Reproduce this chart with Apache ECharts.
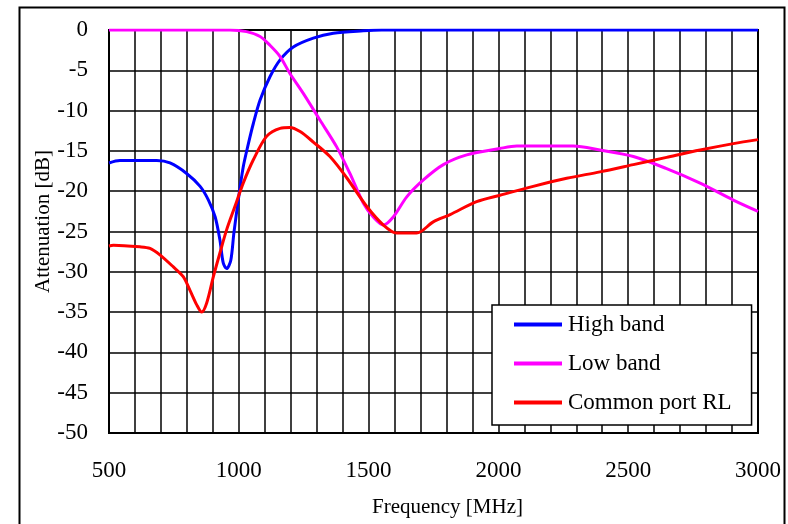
<!DOCTYPE html>
<html>
<head>
<meta charset="utf-8">
<script src="https://cdn.jsdelivr.net/npm/echarts@6/dist/echarts.min.js"></script>
<style>html,body{margin:0;padding:0;background:#fff}#c{width:788px;height:524px}</style>
</head>
<body>
<div id="c"></div>
<script>
const highFreq = [500, 542, 684, 735, 799, 851, 883, 909, 927, 940, 953, 969, 981, 998, 1017, 1037, 1056, 1082, 1120, 1159, 1210, 1287, 1364, 1479, 1550, 2000, 2500, 3000];
const highVal  = [-16.5, -16.2, -16.2, -16.5, -17.8, -19.4, -21.1, -23.2, -26.0, -28.9, -29.6, -28.6, -25.2, -21.1, -17.0, -14.1, -11.6, -8.7, -5.8, -3.7, -2.1, -1.0, -0.4, -0.1, 0, 0, 0, 0];

const lowFreq = [500, 700, 900, 966, 1030, 1082, 1120, 1159, 1197, 1249, 1313, 1377, 1428, 1480, 1518, 1557, 1595, 1647, 1711, 1788, 1878, 2006, 2071, 2289, 2391, 2520, 2648, 2777, 2905, 3000];
const lowVal  = [0, 0, 0, 0, -0.2, -0.8, -1.9, -3.3, -5.4, -7.9, -11.2, -14.5, -17.8, -21.5, -23.2, -24.2, -23.2, -20.7, -18.6, -16.7, -15.5, -14.7, -14.4, -14.4, -14.9, -15.7, -17.2, -19.0, -21.1, -22.5];

const rlFreq = [500, 517, 619, 658, 696, 748, 786, 812, 838, 857, 876, 902, 927, 953, 985, 1017, 1056, 1107, 1159, 1197, 1236, 1287, 1351, 1415, 1493, 1557, 1608, 1685, 1749, 1814, 1916, 2006, 2134, 2263, 2391, 2520, 2648, 2777, 2905, 3000];
const rlVal  = [-26.8, -26.7, -26.9, -27.1, -27.9, -29.4, -30.6, -32.3, -34.1, -35.0, -33.9, -30.6, -27.7, -24.8, -21.9, -19.0, -16.1, -13.2, -12.2, -12.1, -12.6, -13.9, -15.7, -18.3, -21.9, -24.2, -25.2, -25.2, -23.8, -22.9, -21.3, -20.5, -19.4, -18.4, -17.6, -16.7, -15.8, -14.9, -14.1, -13.6];

const seriesNames = ['High band', 'Low band', 'Common port RL'];
const seriesColors = ['#0000ff', '#ff00ff', '#ff0000'];
const xTickLabels = [500, 1000, 1500, 2000, 2500, 3000];

const pairs = (f, v) => f.map((x, i) => [x, v[i]]);
const font = '"Liberation Serif", "DejaVu Serif", serif';
const fs = 23;

const chart = echarts.init(document.getElementById('c'));
chart.setOption({
  animation: false,
  backgroundColor: '#fff',
  textStyle: { fontFamily: font },
  graphic: [{
    type: 'rect', left: 17, top: 5, z: 100,
    shape: { x: 0, y: 0, width: 765, height: 600 },
    style: { fill: 'none', stroke: '#000', lineWidth: 2 }
  }],
  grid: { left: 109, right: 30, top: 30, bottom: 91, show: true, borderColor: '#000', borderWidth: 2 },
  xAxis: {
    type: 'value', min: 500, max: 3000, interval: 100,
    name: 'Frequency [MHz]', nameLocation: 'middle', nameGap: 64, nameMoveOverlap: false,
    nameTextStyle: { fontFamily: font, fontSize: 21, color: '#000', padding: [0, 0, 0, 28] },
    axisLine: { show: true, lineStyle: { color: '#000', width: 2 } },
    axisTick: { show: false },
    axisLabel: {
      fontFamily: font, fontSize: fs, color: '#000', margin: 26,
      formatter: v => xTickLabels.includes(v) ? String(v) : ''
    },
    splitLine: { show: true, lineStyle: { color: '#000', width: 1.5 } }
  },
  yAxis: {
    type: 'value', min: -50, max: 0, interval: 5,
    name: 'Attenuation [dB]', nameLocation: 'middle', nameGap: 55, nameMoveOverlap: false,
    nameTextStyle: { fontFamily: font, fontSize: 21, color: '#000', padding: [0, 0, 0, 20] },
    axisLine: { show: true, lineStyle: { color: '#000', width: 2 } },
    axisTick: { show: false },
    axisLabel: { fontFamily: font, fontSize: fs, color: '#000', margin: 21 },
    splitLine: { show: true, lineStyle: { color: '#000', width: 1.5 } }
  },
  legend: {
    orient: 'vertical', left: 492, top: 305,
    padding: [8, 20, 11, 22], itemGap: 16,
    itemWidth: 48, itemHeight: 4, icon: 'rect',
    backgroundColor: '#fff', borderColor: '#000', borderWidth: 1.5,
    textStyle: { fontFamily: font, fontSize: fs, color: '#000', padding: [0, 0, 0, 1] },
    data: seriesNames
  },
  series: [
    { name: seriesNames[0], type: 'line', data: pairs(highFreq, highVal), showSymbol: false, smooth: 0.3, lineStyle: { color: seriesColors[0], width: 3 }, itemStyle: { color: seriesColors[0] } },
    { name: seriesNames[1], type: 'line', data: pairs(lowFreq, lowVal), showSymbol: false, smooth: 0.3, lineStyle: { color: seriesColors[1], width: 3 }, itemStyle: { color: seriesColors[1] } },
    { name: seriesNames[2], type: 'line', data: pairs(rlFreq, rlVal), showSymbol: false, smooth: 0.3, lineStyle: { color: seriesColors[2], width: 3 }, itemStyle: { color: seriesColors[2] } }
  ]
});
</script>
</body>
</html>
